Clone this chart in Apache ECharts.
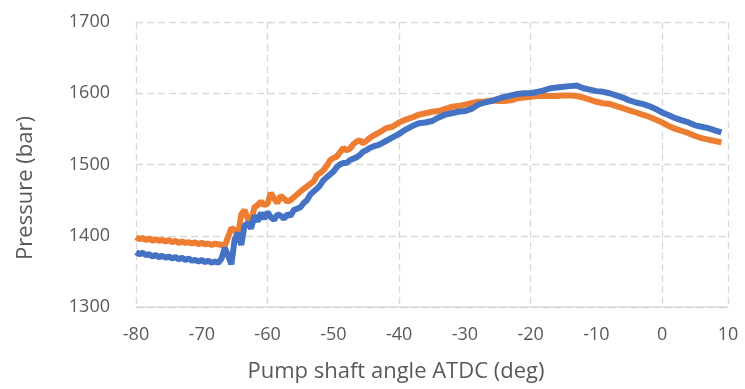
<!DOCTYPE html>
<html>
<head>
<meta charset="utf-8">
<script src="https://cdn.jsdelivr.net/npm/echarts@6/dist/echarts.min.js"></script>
<style>
  html, body { margin: 0; padding: 0; background: #fff; }
  #chart { width: 745px; height: 389px; }
</style>
</head>
<body>
<div id="chart"></div>
<script>
// Pump shaft angle samples (deg ATDC)
const angle = [
  -80, -79.5, -79, -78.5, -78, -77.5, -77, -76.5, -76, -75.5, -75, -74.5, -74,
  -73.5, -73, -72.5, -72, -71.5, -71, -70.5, -70, -69.5, -69, -68.5, -68,
  -67.5, -67, -66.5, -66, -65.5, -65, -64.5, -64, -63.5, -63, -62.5, -62,
  -61.5, -61, -60.5, -60, -59.5, -59, -58.5, -58, -57.5, -57, -56.5, -56,
  -55.5, -55, -54.5, -54, -53.5, -53, -52.5, -52, -51.5, -51, -50.5, -50,
  -49.5, -49, -48.5, -48, -47.5, -47, -46.5, -46, -45.5, -45, -44.5, -44,
  -43, -42, -41, -40, -39, -38, -37, -36, -35, -34, -33, -32, -31, -30,
  -29, -28, -27, -26, -25, -24, -23, -22, -21, -20, -19, -18, -17, -16,
  -15, -14, -13, -12, -11, -10, -9, -8, -7, -6, -5, -4, -3, -2, -1, 0,
  1, 2, 3, 4, 5, 6, 7, 8, 9
];

// Rail pressure, blue trace (bar)
const pressureBlue = [
  1377, 1374, 1376, 1373, 1374, 1371, 1373, 1370, 1372, 1369, 1371, 1368, 1370,
  1367, 1369, 1366, 1368, 1365, 1366, 1364, 1366, 1363, 1365, 1362, 1364,
  1362, 1368, 1383, 1372, 1360, 1395, 1404, 1387, 1414, 1418, 1410, 1428,
  1420, 1432, 1424, 1433, 1426, 1422, 1430, 1428, 1424, 1430, 1428, 1436,
  1438, 1440, 1446, 1450, 1458, 1462, 1466, 1471, 1478, 1482, 1486, 1490,
  1496, 1500, 1502, 1502, 1506, 1508, 1510, 1513, 1518, 1520, 1523, 1525,
  1528, 1533, 1538, 1543, 1549, 1554, 1558, 1559, 1561, 1566, 1570, 1572, 1574, 1575,
  1578, 1584, 1587, 1589, 1592, 1595, 1597, 1599, 1600, 1600, 1602, 1604, 1607, 1608,
  1609, 1610, 1611, 1607, 1605, 1603, 1602, 1600, 1597, 1594, 1590, 1587, 1585, 1582, 1578, 1573,
  1569, 1565, 1562, 1559, 1555, 1553, 1551, 1548, 1545
];

// Rail pressure, orange trace (bar)
const pressureOrange = [
  1398, 1395, 1397, 1394, 1396, 1393, 1395, 1393, 1394, 1392, 1394, 1391, 1393,
  1390, 1392, 1390, 1391, 1389, 1391, 1388, 1390, 1388, 1389, 1387, 1389,
  1388, 1387, 1386, 1398, 1411, 1408, 1401, 1430, 1436, 1424, 1419, 1440,
  1443, 1448, 1443, 1445, 1460, 1452, 1446, 1456, 1452, 1448, 1450, 1454,
  1458, 1462, 1466, 1469, 1473, 1476, 1485, 1488, 1492, 1498, 1506, 1509,
  1511, 1517, 1523, 1520, 1522, 1528, 1532, 1534, 1530, 1533, 1537, 1540,
  1545, 1551, 1553, 1559, 1563, 1566, 1570, 1572, 1574, 1575, 1578, 1581, 1582, 1584,
  1586, 1588, 1588, 1590, 1589, 1589, 1590, 1593, 1594, 1595, 1596, 1596, 1596, 1596,
  1597, 1597, 1596, 1594, 1591, 1588, 1586, 1585, 1582, 1579, 1576, 1573, 1570, 1567, 1563, 1559,
  1554, 1550, 1547, 1544, 1540, 1537, 1535, 1533, 1531
];

const xTitle = 'Pump shaft angle ATDC (deg)';
const yTitle = 'Pressure (bar)';

const FONT = '"Open Sans", "Noto Sans", sans-serif';
const TEXT = '#595959';
const GRID = '#d9d9d9';

const chart = echarts.init(document.getElementById('chart'), null, { renderer: 'canvas' });

const pairs = (ys) => angle.map((a, i) => [a, ys[i]]);

chart.setOption({
  animation: false,
  backgroundColor: '#ffffff',
  grid: { left: 136, right: 17, top: 22, bottom: 82, containLabel: false },
  xAxis: [
    {
      type: 'value', min: -80, max: 10, interval: 10,
      axisLine: { show: true, lineStyle: { color: GRID, width: 1.5 } },
      axisTick: { show: false },
      splitLine: { show: false },
      axisLabel: { color: TEXT, fontFamily: FONT, fontSize: 18, margin: 19 }
    },
    {
      // major gridlines every 20 deg
      type: 'value', min: -80, max: 10, interval: 20, position: 'bottom',
      axisLine: { show: false }, axisTick: { show: false }, axisLabel: { show: false },
      splitLine: { show: true, lineStyle: { color: GRID, width: 1.3, type: [7, 4] } }
    }
  ],
  yAxis: {
    type: 'value', min: 1300, max: 1700, interval: 100,
    axisLine: { show: false }, axisTick: { show: false },
    axisLabel: { color: TEXT, fontFamily: FONT, fontSize: 18, margin: 26, formatter: (v) => String(v) },
    splitLine: { show: true, lineStyle: { color: GRID, width: 1.3, type: [7, 4] } }
  },
  graphic: [
    {
      type: 'text', x: 396, y: 372,
      style: { text: xTitle, fill: TEXT, font: '22px ' + FONT, textAlign: 'center', textVerticalAlign: 'middle' }
    },
    {
      type: 'text', x: 26, y: 188, rotation: Math.PI / 2,
      style: { text: yTitle, fill: TEXT, font: '22px ' + FONT, textAlign: 'center', textVerticalAlign: 'middle' }
    }
  ],
  series: [
    {
      type: 'line', data: pairs(pressureOrange), showSymbol: false,
      lineStyle: { color: '#ED7D31', width: 6 }, z: 3
    },
    {
      type: 'line', data: pairs(pressureBlue), showSymbol: false,
      lineStyle: { color: '#4472C4', width: 6 }, z: 4
    }
  ]
});
</script>
</body>
</html>
